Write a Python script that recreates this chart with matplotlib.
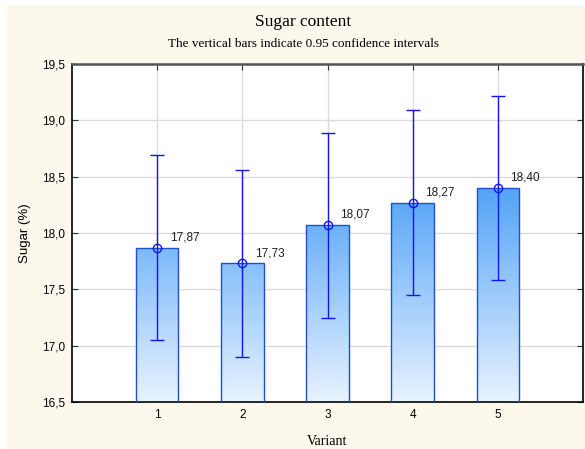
import matplotlib
matplotlib.use("Agg")
import matplotlib.pyplot as plt
import numpy as np
from matplotlib.patches import Rectangle
from matplotlib.colors import LinearSegmentedColormap
from matplotlib.ticker import FuncFormatter

# data
variants = [1, 2, 3, 4, 5]
means = [17.87, 17.73, 18.07, 18.27, 18.40]
ci = [0.82, 0.83, 0.82, 0.82, 0.82]
labels = ["17,87", "17,73", "18,07", "18,27", "18,40"]

y_min, y_max = 16.5, 19.5
bar_w = 0.5

fig = plt.figure(figsize=(5.85, 4.49), dpi=100, facecolor="white")
# cream panel behind everything
fig.patches.append(Rectangle((7 / 585, 0), 1, 1 - 5 / 449, transform=fig.transFigure,
                             facecolor="#fdf8ec", edgecolor="none", zorder=-10))

ax = fig.add_axes([72 / 585, 47 / 449, 511 / 585, 338 / 449])
ax.set_zorder(1)
ax.set_facecolor("white")

# gradient bars (gradient shared over the height of the tallest bar)
cmap = LinearSegmentedColormap.from_list("bar", ["#e8f3ff", "#52a3f7"])
grad = np.linspace(0, 1, 256).reshape(-1, 1)
for x, m in zip(variants, means):
    rect = Rectangle((x - bar_w / 2, y_min), bar_w, m - y_min, fill=False,
                     edgecolor="#1f4fd0", linewidth=1.0, zorder=3)
    ax.add_patch(rect)
    im = ax.imshow(grad, cmap=cmap, origin="lower", aspect="auto",
                   extent=(x - bar_w / 2, x + bar_w / 2, y_min, max(means)), zorder=2)
    im.set_clip_path(rect)

ax.errorbar(variants, means, yerr=ci, fmt="o", color="#1414f0", ecolor="#1414f0",
            mfc="none", mec="#1414f0", ms=6, elinewidth=1.0, capsize=5, capthick=1.0,
            zorder=4)

for x, m, lab in zip(variants, means, labels):
    ax.annotate(lab, (x, m), xytext=(9, 3), textcoords="offset points",
                ha="left", va="bottom", fontsize=8.5, family="Liberation Sans",
                color="#222222", zorder=5)

ax.set_xlim(0, 6)
ax.set_ylim(y_min, y_max)
ax.set_xticks(variants)
ax.set_yticks(np.arange(16.5, 19.51, 0.5))
ax.yaxis.set_major_formatter(FuncFormatter(lambda v, p: f"{v:.1f}".replace(".", ",")))
ax.grid(True, color="#dcdcdc", linewidth=1.0, zorder=1)
ax.set_axisbelow(True)
ax.tick_params(direction="in", length=4, top=True, right=True, labelsize=8.5,
               color="#333333", pad=5)
for lab in ax.get_xticklabels() + ax.get_yticklabels():
    lab.set_family("Liberation Sans")

for s in ["left", "bottom", "right"]:
    ax.spines[s].set_color("black")
    ax.spines[s].set_linewidth(1.2)
ax.spines["top"].set_color("#555555")
ax.spines["top"].set_linewidth(1.8)

ax.set_xlabel("Variant", family="Liberation Serif", fontsize=10, labelpad=10)
ax.set_ylabel("Sugar (%)", family="Liberation Sans", fontsize=9.5, labelpad=8)

fig.text(0.518, 1 - 22 / 449, "Sugar content", ha="center", va="center",
         family="Liberation Serif", fontsize=12.5)
fig.text(0.518, 1 - 44 / 449, "The vertical bars indicate 0.95 confidence intervals",
         ha="center", va="center", family="Liberation Serif", fontsize=9.5)

fig.savefig("out.png", dpi=100, facecolor=fig.get_facecolor())
